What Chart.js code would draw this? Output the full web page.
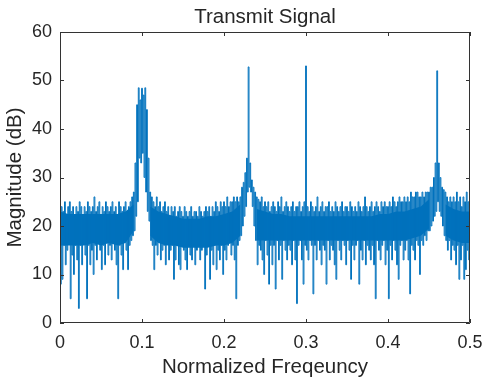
<!DOCTYPE html>
<html>
<head>
<meta charset="utf-8">
<script src="https://cdn.jsdelivr.net/npm/chart.js@4/dist/chart.umd.min.js"></script>
<style>
  html, body { margin: 0; padding: 0; background: #fff; }
  #wrap { width: 485px; height: 382px; }
</style>
</head>
<body>
<div id="wrap"><canvas id="chart" width="485" height="382"></canvas></div>
<script>
// Spectrum: for every 0.002 step of normalized frequency,
// the top of the trace and the bottom of the trace (dB)
const freqStep = 0.002;

const peakDb = [
  35, 24, 23, 25, 22, 24, 25, 23, 24, 22,
  24, 23, 25, 24, 22, 24, 23, 25, 24, 23,
  24, 26, 23, 24, 25, 22, 24, 23, 25, 24,
  23, 24, 25, 23, 24, 22, 25, 24, 23, 24,
  25, 23, 24, 25, 26, 27, 33, 45, 48.5, 46,
  48.4, 47, 48.5, 44, 34, 27, 26, 25, 24, 26,
  24, 25, 23, 24, 25, 23, 24, 22, 24, 23,
  24, 22, 23, 24, 23, 22, 24, 23, 22, 23,
  24, 22, 23, 23, 22, 24, 23, 22, 23, 24,
  23, 24, 22, 24, 23, 25, 24, 23, 25, 24,
  25, 24, 26, 24, 25, 25, 26, 25, 26, 25,
  26, 28, 29, 31, 34, 52.8, 33, 29.5, 28, 27,
  26, 25.5, 25, 26, 24, 25, 24, 25, 23, 24,
  25, 24, 23, 25, 24, 26, 23, 24, 25, 24,
  23, 24, 25, 23, 24, 24, 25, 23, 24, 25,
  53, 24, 23, 25, 24, 23, 24, 26, 23, 24,
  25, 23, 24, 24, 25, 23, 24, 23, 25, 24,
  23, 24, 25, 23, 24, 24, 23, 25, 24, 23,
  24, 23, 25, 24, 23, 24, 26, 24, 23, 24,
  25, 23, 24, 25, 24, 23, 25, 24, 25, 24,
  24, 25, 24, 26, 25, 24, 25, 26, 25, 25,
  26, 25, 26, 25, 27, 26, 26, 27, 27, 26,
  26, 27, 26, 27, 27, 27, 28, 28, 30, 33,
  52, 33, 30, 28, 27.5, 27, 26, 25, 26, 25,
  26, 25, 27, 25, 26, 24, 26, 25, 27, 25, 25
];

const troughDb = [
  8, 9, 16, 12, 15, 17, 5, 14, 10, 16,
  13, 3, 16, 12, 17, 14, 5, 16, 12, 15,
  10, 16, 13, 17, 15, 11, 16, 12, 17, 14,
  16, 13, 17, 15, 12, 5, 16, 14, 11, 17,
  15, 11, 16, 17, 18, 19, 22, 25, 34, 33,
  35, 30, 27, 23, 21, 17, 16, 11, 16, 14,
  17, 13, 15, 16, 12, 17, 13, 15, 16, 9,
  13, 16, 12, 11, 16, 15, 13, 11, 16, 14,
  13, 16, 12, 15, 16, 13, 15, 16, 7, 14,
  16, 9, 15, 12, 16, 11, 15, 13, 16, 10,
  15, 13, 16, 17, 14, 16, 13, 5, 16, 17,
  18, 20, 22, 24, 27, 28, 27, 24, 20, 17,
  12, 16, 15, 13, 10, 17, 14, 8, 16, 12,
  16, 7, 17, 13, 16, 9, 17, 15, 13, 16,
  15, 12, 17, 13, 4, 16, 17, 13, 8, 16,
  15, 13, 17, 16, 6, 16, 13, 17, 15, 12,
  16, 15, 8, 17, 13, 16, 15, 12, 9, 17,
  15, 13, 17, 16, 12, 17, 15, 9, 16, 13,
  16, 17, 8, 15, 13, 17, 12, 16, 15, 13,
  16, 12, 5, 17, 15, 13, 16, 17, 12, 15,
  5, 16, 13, 17, 15, 12, 9, 16, 17, 13,
  15, 17, 13, 6, 16, 15, 13, 17, 16, 10,
  17, 16, 18, 17, 19, 19, 20, 21, 22, 23,
  25, 23, 22, 20, 18, 17, 15, 17, 13, 16,
  15, 12, 16, 9, 13, 16, 9, 11, 15, 13, 10
];

// the dense dark core of the noise floor, every 0.01 (null where a peak sits)
const coreStep = 0.01;
const coreTopDb = [
  23, 22.5, 22.5, 22.5, 22.5, 22.5, 22.5, 22.5, 23, 24.5,
  null, 24, 23, 22.5, 22, 21.5, 21.5, 21.5, 22, 22,
  22.5, 23, 24.5, null, 23.5, 23, 22.5, 22.5, 22, 22,
  22, 22, 22, 22, 22, 22, 22, 22, 22, 22.5,
  22.5, 23, 23, 23.5, 24, 25.5, null, 24.5, 23.5, 23, 23
];
const coreBottomDb = [
  16, 16, 16, 16, 16.5, 16, 16.5, 16, 16.5, 19,
  null, 18, 16.5, 16, 16, 15.5, 15.5, 15.5, 15.5, 16,
  16, 16.5, 18, null, 17, 17, 17, 17, 17, 17,
  17, 17, 17, 17, 17, 17, 17, 17, 17, 17,
  17, 17, 17, 17.5, 18, 19.5, null, 18, 17, 16.5, 16.5
];

const xTicks = [0, 0.1, 0.2, 0.3, 0.4, 0.5];
const yTicks = [0, 10, 20, 30, 40, 50, 60];

const lineColor = '#0072BD';
const textColor = '#262626';
const fontFamily = "'Liberation Sans', Arial, sans-serif";

// top and bottom of each column joined into one trace
let trace = [];
peakDb.forEach((v, i) => {
  trace.push({x: i * freqStep, y: v});
  trace.push({x: i * freqStep + freqStep / 2, y: troughDb[i]});
});
const coreTop = coreTopDb.map((v, i) => ({x: i * coreStep, y: v}));
const coreBottom = coreBottomDb.map((v, i) => ({x: i * coreStep, y: v}));

// MATLAB style box with ticks pointing inwards on all four sides
const boxTicks = {
  id: 'boxTicks',
  afterDatasetsDraw(chart) {
    const {ctx, chartArea: a, scales: {x, y}} = chart;
    const len = 4;
    ctx.save();
    ctx.strokeStyle = '#333333';
    ctx.lineWidth = 1;
    ctx.beginPath();
    ctx.rect(a.left + 0.5, a.top + 0.5, a.right - a.left - 1, a.bottom - a.top - 1);
    xTicks.forEach(v => {
      const px = Math.round(x.getPixelForValue(v)) + 0.5;
      ctx.moveTo(px, a.bottom); ctx.lineTo(px, a.bottom - len);
      ctx.moveTo(px, a.top); ctx.lineTo(px, a.top + len);
    });
    yTicks.forEach(v => {
      const py = Math.round(y.getPixelForValue(v)) + 0.5;
      ctx.moveTo(a.left, py); ctx.lineTo(a.left + len, py);
      ctx.moveTo(a.right, py); ctx.lineTo(a.right - len, py);
    });
    ctx.stroke();
    ctx.restore();
  }
};

new Chart(document.getElementById('chart'), {
  type: 'line',
  data: {
    datasets: [
      {
        data: trace,
        borderColor: lineColor,
        borderWidth: 1,
        pointRadius: 0,
        stepped: 'middle',
        fill: false
      },
      {
        data: coreTop,
        borderWidth: 0,
        pointRadius: 0,
        backgroundColor: lineColor,
        fill: '+1'
      },
      {
        data: coreBottom,
        borderWidth: 0,
        pointRadius: 0,
        fill: false
      }
    ]
  },
  options: {
    responsive: false,
    animation: false,
    events: [],
    layout: {padding: {left: 0, right: 15, top: 0, bottom: 0}},
    plugins: {
      legend: {display: false},
      tooltip: {enabled: false},
      title: {display: false}
    },
    scales: {
      x: {
        type: 'linear',
        min: 0,
        max: 0.5,
        afterFit: s => { s.height = 59; s.paddingLeft = 0; s.paddingRight = 0; },
        afterBuildTicks: s => { s.ticks = xTicks.map(v => ({value: v})); },
        grid: {display: false, drawTicks: false},
        border: {display: false},
        ticks: {
          color: textColor,
          font: {family: fontFamily, size: 18},
          padding: 9,
          maxRotation: 0,
          callback: v => String(+v.toFixed(1))
        },
        title: {
          display: true,
          text: 'Normalized Freqeuncy',
          color: textColor,
          font: {family: fontFamily, size: 20.5},
          padding: {top: 0, bottom: 2}
        }
      },
      // top axis only carries the chart title, centred over the plot box
      x2: {
        type: 'linear',
        position: 'top',
        min: 0,
        max: 0.5,
        afterFit: s => { s.height = 32; s.paddingLeft = 0; s.paddingRight = 0; },
        grid: {display: false, drawTicks: false},
        border: {display: false},
        ticks: {display: false},
        title: {
          display: true,
          text: 'Transmit Signal',
          color: textColor,
          font: {family: fontFamily, size: 20.5},
          padding: {top: 5, bottom: 0}
        }
      },
      y: {
        type: 'linear',
        min: 0,
        max: 60,
        afterFit: s => { s.width = 60; },
        afterBuildTicks: s => { s.ticks = yTicks.map(v => ({value: v})); },
        grid: {display: false, drawTicks: false},
        border: {display: false},
        ticks: {
          color: textColor,
          font: {family: fontFamily, size: 18},
          padding: 8
        },
        title: {
          display: true,
          text: 'Magnitude (dB)',
          color: textColor,
          font: {family: fontFamily, size: 20.5},
          padding: {top: 3, bottom: 0}
        }
      }
    }
  },
  plugins: [boxTicks]
});
</script>
</body>
</html>
